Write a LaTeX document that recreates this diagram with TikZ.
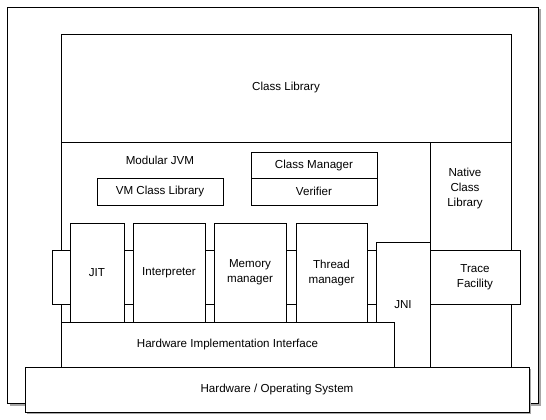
\documentclass[tikz,border=0pt]{standalone}
\usepackage{fontspec}
\setmainfont{Liberation Sans}
\begin{document}
\begin{tikzpicture}[x=1pt,y=-1pt,
  box/.style={draw=black,line width=0.9pt,fill=white,inner sep=0pt,align=center,
    font=\fontsize{11.6}{15}\selectfont},
  shadowfill/.style={fill=black!35},
  lbl/.style={inner sep=0pt,align=center,font=\fontsize{11.6}{15}\selectfont}]
\useasboundingbox (0,0) rectangle (546,420);
\fill[shadowfill] (9.5,9.5) rectangle (540.5,405.5);
\node[box,minimum width=531,minimum height=396] (outer) at (272.5,205) {};
\node[box,minimum width=450,minimum height=108] (classlib) at (286,88) {Class Library};
\node[box,minimum width=369,minimum height=180] (jvm) at (245.5,232) {};
\node[lbl] (jvmlbl) at (160,160) {Modular JVM};
\node[box,minimum width=81,minimum height=225] (native) at (470.5,254.5) {};
\node[lbl] (nativelbl) at (465,188) {Native\\Class\\Library};
\node[box,minimum width=126,minimum height=27] (vmcl) at (160,191.5) {VM Class Library};
\node[box,minimum width=126,minimum height=26] (cm) at (314,165) {Class Manager};
\node[box,minimum width=126,minimum height=27] (ver) at (314,191.5) {Verifier};
\node[box,minimum width=324,minimum height=54] (bar) at (214,277) {};
\node[box,minimum width=54,minimum height=99] (jit) at (97,272.5) {JIT};
\node[box,minimum width=72,minimum height=99] (interp) at (169,272.5) {Interpreter};
\node[box,minimum width=72,minimum height=99] (mem) at (250,272.5) {Memory\\manager};
\node[box,minimum width=71,minimum height=99] (thread) at (331.5,272.5) {Thread\\manager};
\node[box,minimum width=54,minimum height=125] (jni) at (403,304.5) {JNI};
\node[box,minimum width=90,minimum height=54] (trace) at (475,277) {Trace\\Facility};
\node[box,minimum width=333,minimum height=45] (hii) at (227.5,344.5) {Hardware Implementation Interface};
\fill[shadowfill] (27,369) rectangle (531,414);
\node[box,minimum width=504,minimum height=45] (hw) at (277,389.5) {Hardware / Operating System};
\end{tikzpicture}
\end{document}
